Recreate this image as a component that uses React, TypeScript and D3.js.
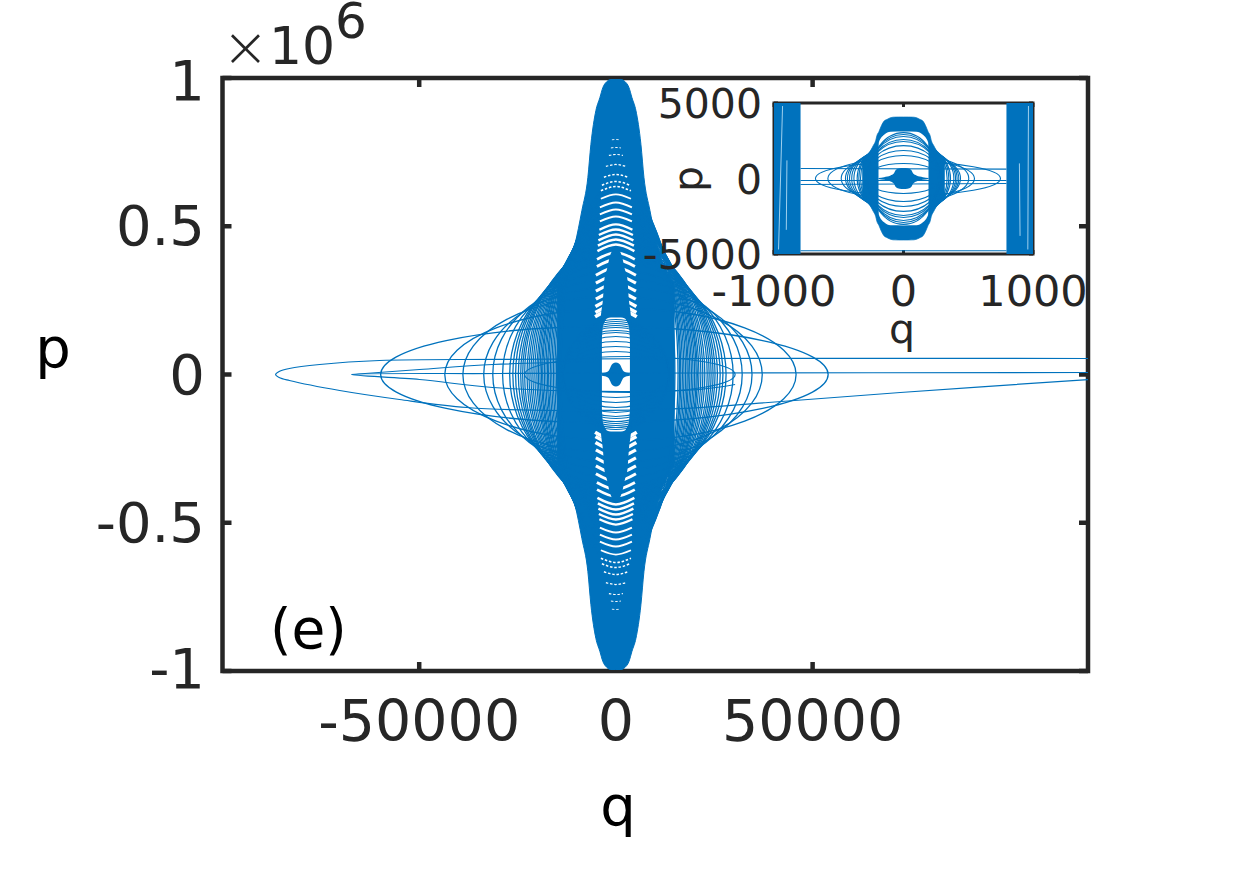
// App.tsx - phase portrait (q, p) with zoomed inset
import React from 'react';
import * as d3 from 'd3';

// --- Ticks ---
const qTicks = [-50000, 0, 50000];
const pTicks = [-1000000, -500000, 0, 500000, 1000000];
const pTickLabels = ['-1', '-0.5', '0', '0.5', '1'];
const insetQTicks = [-1000, 0, 1000];
const insetPTicks = [-5000, 0, 5000];

// --- Main panel: solid body outline (half width, half height) ---
const bodyQ = [0, 1270, 2290, 3310, 4070, 5090, 6360, 7130, 8650, 10430, 13740, 14800];
const bodyP = [995000, 995000, 988000, 968000, 934000, 890000, 776000, 664000, 553000, 438000, 327000, 300000];

// --- Main panel: closed orbits ---
const orbitLeft = [-59800, -43500, -38900, -33600, -31300, -28800, -27000, -25500, -24200, -23200, -22100, -21100, -20100, -19300, -18600, -17800, -17100, -16300, -15500, -14800, -14000];
const orbitRight = [53950, 45800, 37200, 34600, 32100, 29800, 28000, 26500, 25200, 24200, 23200, 22100, 21100, 20400, 19600, 18800, 18100, 17300, 16500, 15800, 15000];
const orbitP = [161900, 222600, 263100, 296800, 323800, 350800, 377800, 404800, 425000, 445200, 458700, 472200, 489100, 506000, 522800, 539700, 556500, 573400, 600400, 627400, 647600];

// tighter orbits in between, they merge near the envelope
const denseLeft = [-26200, -24800, -23700, -22600, -21600, -20600, -19700, -18900, -18200, -17400, -16700, -15900, -15100];
const denseRight = [27200, 25800, 24700, 23700, 22600, 21600, 20700, 20000, 19200, 18400, 17700, 16900, 16200];
const denseP = [391000, 415000, 435000, 452000, 465000, 480000, 497000, 514000, 531000, 548000, 565000, 587000, 614000];

// flat orbits whose tops cross the central window
const lowLeft = [-23200, -13500, -13500, -13500, -13500, -13500, -13500, -13500, -13500, -13500, -13500, -13500];
const lowRight = [30300, 13500, 13500, 13500, 13500, 13500, 13500, 13500, 13500, 13500, 13500, 13500];
const lowP = [60700, 77600, 94400, 111300, 128200, 141700, 148400, 158500, 165300, 172000, 178800, 185500];

// --- Main panel: open orbits running off the right edge ---
const wideQ = [120100, 16300, -29500, -60100, -75300, -83000, -85600, -86500, -85600, -83000, -70200, -55000, -37900, -14300, 16300, 38700, 72300, 120100];
const wideP = [54000, 54000, 51000, 47200, 33700, 20200, 10000, 0, -10000, -20200, -54000, -84300, -111300, -121400, -115000, -94400, -60700, -16900];
const spikeQ = [120100, 21400, -29500, -67200, -49900, -31300, -4100, 21400, 30300];
const spikeP = [6700, 5000, 3400, 0, -16900, -43800, -57000, -50000, -33700];
const spikeUpperQ = [-67200, -49900, -31300, -4100];
const spikeUpperP = [0, 16900, 33700, 43800];

// --- Main panel: gaps between the turning points above the core ---
const gapP = [792700, 765700, 742100, 708300, 674600, 651000, 634100, 607100, 580200, 556500, 532900, 506000, 489100, 472200, 455400, 438500, 411500, 387900, 360900, 333900, 306900, 280000, 256300, 236100, 222600];
const gapQ = [1020, 1270, 1780, 2550, 3050, 3560, 3820, 3820, 4070, 4070, 4070, 4200, 4330, 4450, 4580, 4700, 4800, 4840, 5090, 5090, 5090, 5090, 5200, 5200, 5300];

// --- Main panel: inner spindle, central window and star ---
const spindleQ = [0, 760, 1530, 2290, 2930, 3300, 3820, 4070];
const spindleP = [428400, 421600, 398000, 354200, 320400, 253000, 195600, 150000];
const windowQ = [0, 1270, 2290, 2800, 3300, 3560];
const windowP = [192300, 192300, 188900, 178800, 161900, 118000];
const starQ = [0, 760, 1020, 1530, 1780, 2290, 2800, 3560];
const starP = [40500, 37000, 33700, 20200, 13500, 8400, 6000, 4000];

// --- Inset ---
const insetBandLeft = [-1000, -795];
const insetBandRight = [795, 1000];
const insetBodyQ = [0, 40, 80, 110, 130, 150, 170, 190, 205, 215, 232, 270, 316];
const insetBodyP = [4070, 4070, 4060, 3990, 3900, 3800, 3510, 3100, 2850, 2500, 2200, 1650, 1390];
const insetOrbitLeft = [-680, -584, -481, -448, -433, -417, -400, -383, -358, -345, -332];
const insetOrbitRight = [749, 548, 504, 440, 427, 414, 402, 389, 363, 350, 337];
const insetOrbitP = [1100, 1320, 1590, 1850, 1970, 2100, 2200, 2320, 2500, 2650, 2780];
const insetLowP = [990, 1520, 1850, 2180, 2450, 2580, 2780, 2910, 3040];
const insetLowQ = [300, 300, 295, 290, 285, 280, 275, 270, 265];
const insetWindowQ = [0, 100, 150, 190, 193];
const insetWindowP = [3110, 3100, 2900, 2400, 1800];
const insetStarQ = [0, 30, 60, 75, 100, 150, 193];
const insetStarP = [700, 680, 560, 330, 200, 90, 30];
const insetLineLeftP = [660, -130, -400, -4780];
const insetLineRightP = [620, -130, -330, -4780];
const insetSlitTopQ = [-934, -900, 965, 895];
const insetSlitBottomQ = [-965, -905, 960, 900];
const insetSlitTopP = [4800, 1200, 4800, 1000];
const insetSlitBottomP = [-4700, -3400, -4700, -3800];

const BLUE = '#0072BD';
const DARK = '#262626';
const FONT = '"DejaVu Sans", sans-serif';

const x = d3.scaleLinear().domain([-100000, 120000]).range([222.5, 1088]);
const y = d3.scaleLinear().domain([-1000000, 1000000]).range([671, 78]);
const ix = d3.scaleLinear().domain([-1000, 1000]).range([774, 1033]);
const iy = d3.scaleLinear().domain([-5000, 5000]).range([254, 103]);

type Scale = d3.ScaleLinear<number, number>;

// mirror a half profile into a closed area around the origin
function profileArea(qs: number[], ps: number[], sx: Scale, sy: Scale) {
  const rows = [
    ...qs.map((q, i) => [-q, ps[i]]).reverse(),
    ...qs.slice(1).map((q, i) => [q, ps[i + 1]]),
  ];
  return d3.area<number[]>()
    .x(d => sx(d[0]))
    .y0(d => sy(-d[1]))
    .y1(d => sy(d[1]))
    .curve(d3.curveMonotoneX)(rows) || '';
}

function openPath(qs: number[], ps: number[]) {
  return d3.line<number>()
    .x(q => x(q))
    .y((_, i) => y(ps[i]))
    .curve(d3.curveCatmullRom.alpha(0.5))(qs) || '';
}

const gapWidth = d3.scaleLinear().domain([230000, 800000]).range([3.6, 0.8]).clamp(true);

function Orbits({ left, right, ps, sx, sy, width }: any) {
  return (
    <g fill="none" stroke={BLUE} strokeWidth={width}>
      {ps.map((p: number, i: number) => (
        <ellipse key={i}
          cx={sx((left[i] + right[i]) / 2)} cy={sy(0)}
          rx={(sx(right[i]) - sx(left[i])) / 2} ry={sy(0) - sy(p)} />
      ))}
    </g>
  );
}

function Axes({ sx, sy, xTicks, yTicks, tick, width }: any) {
  const [x0, x1] = sx.range();
  const [y0, y1] = sy.range();
  return (
    <g stroke={DARK} strokeWidth={width} fill="none">
      {xTicks.map((t: number) => (
        <g key={t}>
          <line x1={sx(t)} x2={sx(t)} y1={y0} y2={y0 - tick} />
          <line x1={sx(t)} x2={sx(t)} y1={y1} y2={y1 + tick} />
        </g>
      ))}
      {yTicks.map((t: number) => (
        <g key={t}>
          <line x1={x0} x2={x0 + tick} y1={sy(t)} y2={sy(t)} />
          <line x1={x1} x2={x1 - tick} y1={sy(t)} y2={sy(t)} />
        </g>
      ))}
      <rect x={x0} y={y1} width={x1 - x0} height={y0 - y1} />
    </g>
  );
}

function MainData() {
  return (
    <g clipPath="url(#mainClip)">
      <path d={profileArea(bodyQ, bodyP, x, y)} fill={BLUE} stroke={BLUE} strokeWidth={1} />
      <Orbits left={orbitLeft} right={orbitRight} ps={orbitP} sx={x} sy={y} width={1.3} />
      <Orbits left={denseLeft} right={denseRight} ps={denseP} sx={x} sy={y} width={1.3} />
      {[1, -1].map(sign => (
        <g key={sign} fill="none" stroke="#fff">
          {gapP.map((p, i) => (
            <path key={i}
              strokeWidth={gapWidth(p)}
              strokeDasharray={p > 620000 ? '2.5 1.8' : undefined}
              d={d3.line<number[]>().x(d => x(d[0])).y(d => y(sign * d[1])).curve(d3.curveNatural)(
                [[-gapQ[i], p - gapQ[i] * gapQ[i] * 1e-3], [0, p], [gapQ[i], p - gapQ[i] * gapQ[i] * 1e-3]]) || ''} />
          ))}
        </g>
      ))}
      <path d={profileArea(spindleQ, spindleP, x, y)} fill={BLUE} />
      <path d={profileArea(windowQ, windowP, x, y)} fill="#fff" />
      <Orbits left={lowLeft} right={lowRight} ps={lowP} sx={x} sy={y} width={1.2} />
      <path d={profileArea(starQ, starP, x, y)} fill={BLUE} />
      <g fill="none" stroke={BLUE} strokeWidth={1.2}>
        <path d={openPath(wideQ, wideP)} />
        <path d={openPath(spikeQ, spikeP)} />
        <path d={openPath(spikeUpperQ, spikeUpperP)} />
      </g>
    </g>
  );
}

function InsetData() {
  return (
    <g clipPath="url(#insetClip)">
      {[insetBandLeft, insetBandRight].map((band, i) => (
        <rect key={i} x={ix(band[0])} y={iy(5000)}
          width={ix(band[1]) - ix(band[0])} height={iy(-5000) - iy(5000)} fill={BLUE} />
      ))}
      {insetSlitTopQ.map((q, i) => (
        <line key={i} x1={ix(q)} x2={ix(insetSlitBottomQ[i])} y1={iy(insetSlitTopP[i])} y2={iy(insetSlitBottomP[i])}
          stroke="#9fd0ee" strokeWidth={1} />
      ))}
      <path d={profileArea(insetBodyQ, insetBodyP, ix, iy)} fill={BLUE} stroke={BLUE} strokeWidth={0.7} />
      <Orbits left={insetOrbitLeft} right={insetOrbitRight} ps={insetOrbitP} sx={ix} sy={iy} width={1.1} />
      <path d={profileArea(insetWindowQ, insetWindowP, ix, iy)} fill="#fff" />
      <Orbits left={insetLowQ.map(q => -q)} right={insetLowQ} ps={insetLowP} sx={ix} sy={iy} width={1.1} />
      <path d={profileArea(insetStarQ, insetStarP, ix, iy)} fill={BLUE} />
      {insetLineLeftP.map((p, i) => (
        <line key={i} x1={ix(-795)} x2={ix(795)} y1={iy(p)} y2={iy(insetLineRightP[i])} stroke={BLUE} strokeWidth={1.1} />
      ))}
    </g>
  );
}

export default function App() {
  return (
    <svg width={1250} height={879} viewBox="0 0 1250 879"
      style={{ position: 'absolute', left: 0, top: 0, background: '#fff' }} fontFamily={FONT}>
      <defs>
        <clipPath id="mainClip"><rect x={222.5} y={78} width={865.5} height={593} /></clipPath>
        <clipPath id="insetClip"><rect x={773} y={102} width={261} height={153} /></clipPath>
      </defs>

      <Axes sx={x} sy={y} xTicks={qTicks} yTicks={pTicks} tick={9} width={4.5} />
      <MainData />

      <g fill={DARK} fontSize={57}>
        {qTicks.map(t => <text key={t} x={x(t)} y={741} textAnchor="middle">{t}</text>)}
        {pTicks.map((t, i) => <text key={t} x={205} y={y(t) + (t === 1000000 ? 22 : t === -1000000 ? 17 : 19)} fontSize={56} textAnchor="end">{pTickLabels[i]}</text>)}
        <text x={222} y={66} fontSize={56} fontWeight={200}>×</text>
        <text x={269} y={64} fontSize={52}>10</text>
        <text x={335} y={38} fontSize={50}>6</text>
      </g>
      <g fill="#000" fontSize={56}>
        <text x={618} y={825} textAnchor="middle">q</text>
        <text x={53} y={367} textAnchor="middle">p</text>
        <text x={270} y={648} fontSize={55}>(e)</text>
      </g>

      {/* inset */}
      <rect x={774} y={103} width={259} height={151} fill="#fff" />
      <Axes sx={ix} sy={iy} xTicks={insetQTicks} yTicks={insetPTicks} tick={4} width={3} />
      <InsetData />
      <g fill={DARK} fontSize={41}>
        {insetQTicks.map(t => <text key={t} x={ix(t)} y={306} fontSize={43} textAnchor="middle">{t}</text>)}
        {insetPTicks.map(t => <text key={t} x={762} y={iy(t) + 15} textAnchor="end">{t}</text>)}
        <text x={902} y={343} textAnchor="middle">q</text>
        <text transform="translate(702,179) rotate(-90)" textAnchor="middle">p</text>
      </g>
    </svg>
  );
}
